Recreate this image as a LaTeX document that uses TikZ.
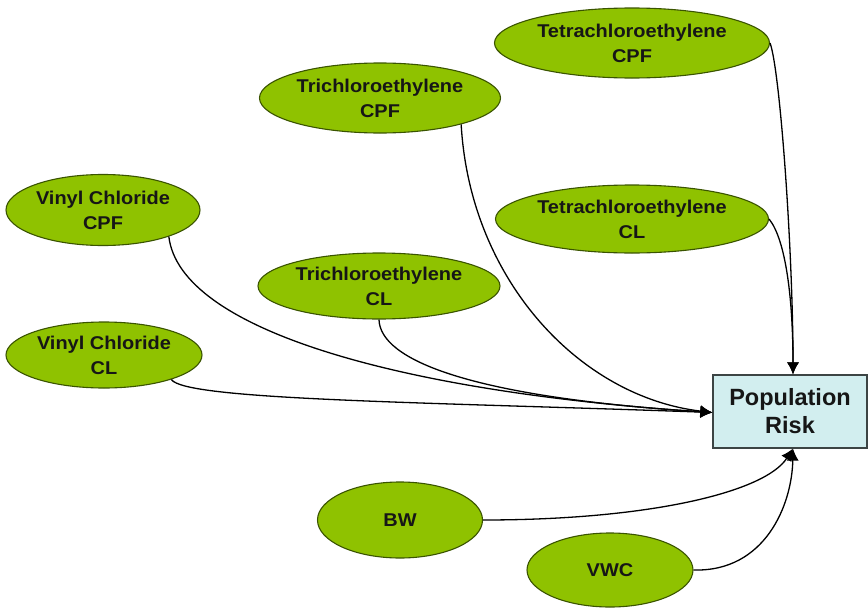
\documentclass[tikz,border=0pt]{standalone}
\usepackage{fontspec}
\setmainfont{Liberation Sans}
\newfontfamily\elfont[FakeStretch=1.08]{Liberation Sans}
\usetikzlibrary{shapes.geometric,arrows.meta}
\definecolor{leaf}{HTML}{8FC200}
\definecolor{leafedge}{HTML}{3A5400}
\definecolor{boxfill}{HTML}{D2EEEF}
\definecolor{boxedge}{HTML}{3C4444}
\definecolor{ink}{HTML}{161616}
\tikzset{
  factor/.style={ellipse, draw=leafedge, fill=leaf, line width=1.1pt,
    inner sep=0pt, align=center, text=ink,
    font=\elfont\bfseries\fontsize{18.5}{25}\selectfont},
  riskbox/.style={rectangle, draw=boxedge, fill=boxfill, line width=1.2pt,
    inner sep=0pt, align=center, text=ink,
    font=\bfseries\fontsize{23.5}{28}\selectfont},
  link/.style={draw=black, line width=1.3pt, -{Latex[length=12pt,width=12pt]}}
}
\begin{document}
\begin{tikzpicture}[x=1pt,y=-1pt]
\useasboundingbox (0,0) rectangle (868,608);

% input factors
\node[factor, minimum width=275, minimum height=70] (tcpf) at (632,43) {Tetrachloroethylene\\CPF};
\node[factor, minimum width=241, minimum height=70] (tricpf) at (380,98) {Trichloroethylene\\CPF};
\node[factor, minimum width=194, minimum height=71] (vcpf) at (103,210) {Vinyl Chloride\\CPF};
\node[factor, minimum width=273, minimum height=68] (tcl) at (632,219) {Tetrachloroethylene\\CL};
\node[factor, minimum width=242, minimum height=66] (tricl) at (379,286) {Trichloroethylene\\CL};
\node[factor, minimum width=196, minimum height=66] (vcl) at (104,355) {Vinyl Chloride\\CL};
\node[factor, minimum width=165, minimum height=76] (bw) at (400,520) {BW};
\node[factor, minimum width=166, minimum height=74] (vwc) at (610,570) {VWC};

% output
\node[riskbox, minimum width=154, minimum height=73] (pr) at (790,411.5) {Population\\Risk};

% connectors
\draw[link] (tcpf.east) .. controls (780,70) and (793,250) .. ([xshift=3]pr.north);
\draw[link] (tcl.east) .. controls (786,240) and (793,300) .. ([xshift=3]pr.north);
\draw[link] (tricpf.-18) .. controls (470,280) and (580,397) .. ([yshift=-1]pr.west);
\draw[link] (vcpf.-22) .. controls (180,330) and (400,392) .. ([yshift=-1]pr.west);
\draw[link] (tricl.south) .. controls (380,360) and (470,397) .. ([yshift=-1]pr.west);
\draw[link] (vcl.-20) .. controls (185,400) and (420,402) .. ([yshift=-1]pr.west);
\draw[link] (bw.east) .. controls (650,520) and (765,492) .. ([xshift=3]pr.south);
\draw[link] (vwc.east) .. controls (765,572) and (792,505) .. ([xshift=3]pr.south);
\end{tikzpicture}
\end{document}
